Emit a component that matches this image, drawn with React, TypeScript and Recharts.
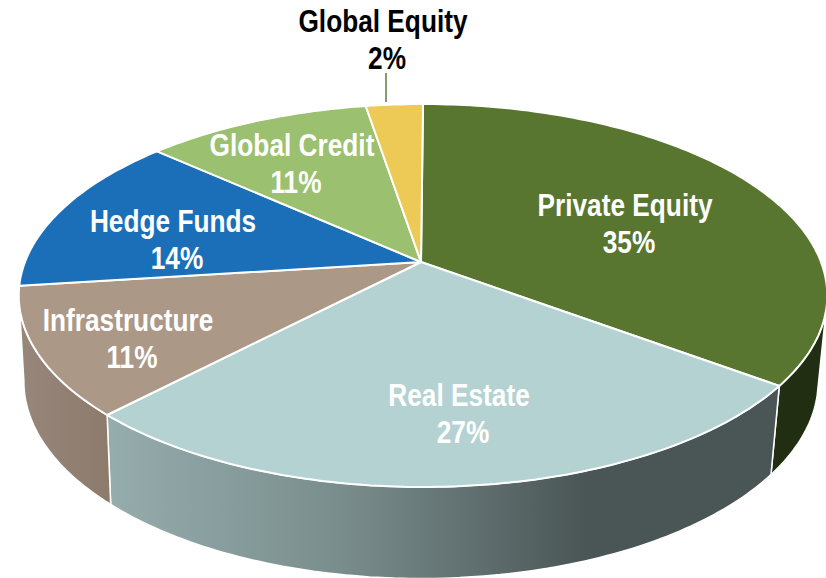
import React from "react"
import { Pie, PieChart } from "recharts"

const names = ["Private Equity", "Real Estate", "Infrastructure", "Hedge Funds", "Global Credit", "Global Equity"]
// slice sizes, the printed labels are rounded
const values = [35.2, 27, 10.8, 13.6, 10.7, 2.7]
const percents = ["35%", "27%", "11%", "14%", "11%", "2%"]
const fills = ["#58762f", "#b5d2d2", "#ab9887", "#1a6fb8", "#9bc06f", "#edc955"]
const wallFills = ["#222e12", "url(#wallRealEstate)", "url(#wallInfra)", "#0e3c66", "#55693c", "#82702e"]

const data = names.map((name, i) => ({ name, value: values[i], fill: fills[i], wallFill: wallFills[i] }))

// label centres, in page pixels
const labelSpots = [
  [625, 205],
  [459, 395],
  [128, 320],
  [173, 221],
  [292, 145],
  [383, 21],
]
const labelColors = ["#fff", "#fff", "#fff", "#fff", "#fff", "#000"]

const CX = 421
const CY = 262
const RIM_CX = 423
const RX = 398
// the tilted disc: vertical radius and perspective strength
const RY = 185.6
const K = -0.175
// the bottom rim of the disc
const BOTTOM_RX = 391
const BOTTOM_RY = 191
const BOTTOM_CY = 347

const rim = (clockDeg: number, rx: number, ry: number, cy: number, cx: number) => {
  const t = (clockDeg * Math.PI) / 180
  const x = Math.sin(t)
  const y = -Math.cos(t)
  const d = 1 + K * y
  return [cx + (rx * x) / d, cy + (ry * y) / d]
}

const arcPoints = (from: number, to: number, rx: number, ry: number, cy: number, cx: number) => {
  const n = Math.max(2, Math.ceil(Math.abs(to - from)))
  const pts = []
  for (let i = 0; i <= n; i++) pts.push(rim(from + ((to - from) * i) / n, rx, ry, cy, cx))
  return pts
}

const toPath = (pts: number[][]) =>
  "M" + pts.map((p) => p[0].toFixed(1) + " " + p[1].toFixed(1)).join("L") + "Z"

// recharts hands angles counter-clockwise from 3 o'clock
const clockRange = (props: any) => {
  const a = 90 - props.startAngle
  const b = 90 - props.endAngle
  return [Math.min(a, b), Math.max(a, b)]
}

const TopFace = (props: any) => {
  const [a, b] = clockRange(props)
  const pts = [[CX, CY], ...arcPoints(a, b, props.outerRadius, RY, CY, RIM_CX)]
  return <path d={toPath(pts)} fill={props.fill} stroke="#fff" strokeWidth={2} strokeLinejoin="round" />
}

const Wall = (props: any) => {
  // only the front part of the side can be seen
  const [s, e] = clockRange(props)
  const a = Math.max(s, 104)
  const b = Math.min(e, 260)
  if (b <= a) return null
  const top = arcPoints(a, b, RX, RY, CY, RIM_CX)
  const bottom = arcPoints(b, a, BOTTOM_RX, BOTTOM_RY, BOTTOM_CY, CX)
  return <path d={toPath([...top, ...bottom])} fill={props.wallFill} stroke="#fff" strokeWidth={1.5} strokeLinejoin="round" />
}

const renderLabel = (props: any) => {
  const i = props.index
  const [x, y] = labelSpots[i]
  const style = {
    fontFamily: "'Liberation Sans', Arial, sans-serif",
    fontWeight: 700,
    fontSize: 30,
  }
  // the source font is a narrow bold, so squeeze the glyphs sideways
  return (
    <g key={names[i]}>
      <text
        transform={`translate(${x} ${y}) scale(0.875 1.02)`}
        textAnchor="middle"
        dominantBaseline="central"
        fill={labelColors[i]}
        style={style}
      >
        {names[i]}
      </text>
      <text
        transform={`translate(${x + 4} ${y + 37}) scale(0.875 1.02)`}
        textAnchor="middle"
        dominantBaseline="central"
        fill={labelColors[i]}
        style={style}
      >
        {percents[i]}
      </text>
      {i === 5 && <line x1={x + 3} x2={x + 3} y1={73} y2={102} stroke="#5f7a3a" strokeWidth={1.5} />}
    </g>
  )
}

export default function App() {
  return (
    <div style={{ position: "absolute", left: 0, top: 0, width: 826, height: 578 }}>
      <PieChart width={826} height={578} margin={{ top: 0, right: 0, bottom: 0, left: 0 }}>
        <defs>
          <linearGradient id="wallRealEstate" gradientUnits="userSpaceOnUse" x1={108} x2={771} y1={0} y2={0}>
            <stop offset="0" stopColor="#96adad" />
            <stop offset="0.35" stopColor="#7a8d8d" />
            <stop offset="0.72" stopColor="#4a5656" />
            <stop offset="1" stopColor="#4a5656" />
          </linearGradient>
          <linearGradient id="wallInfra" gradientUnits="userSpaceOnUse" x1={20} x2={115} y1={0} y2={0}>
            <stop offset="0" stopColor="#97867a" />
            <stop offset="1" stopColor="#8c7a6b" />
          </linearGradient>
        </defs>
        <Pie
          data={data}
          dataKey="value"
          cx={CX}
          cy={CY}
          outerRadius={RX}
          startAngle={90}
          endAngle={-270}
          shape={Wall}
          isAnimationActive={false}
        />
        <Pie
          data={data}
          dataKey="value"
          cx={CX}
          cy={CY}
          outerRadius={RX}
          startAngle={90}
          endAngle={-270}
          shape={TopFace}
          label={renderLabel}
          labelLine={false}
          isAnimationActive={false}
        />
      </PieChart>
    </div>
  )
}
